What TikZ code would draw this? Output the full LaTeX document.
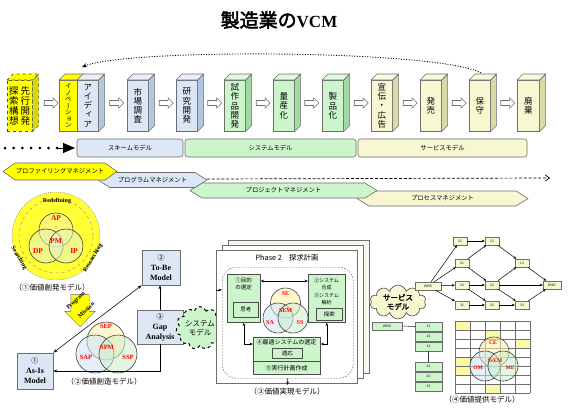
\documentclass[tikz,border=0pt]{standalone}
\usepackage{fontspec}
\newfontfamily\jp{Noto Sans CJK JP}[AutoFakeBold=2.5]
\newfontfamily\jpv{Noto Sans CJK JP}[RawFeature=+vert]
\newfontfamily\ser{Liberation Serif}
\usetikzlibrary{shapes.symbols,shapes.arrows,arrows.meta,calc}
\definecolor{bluef}{HTML}{DCE6F4}
\definecolor{blues}{HTML}{B3C7E2}
\definecolor{greenf}{HTML}{CCF5CC}
\definecolor{greens}{HTML}{A4D9A4}
\definecolor{creamf}{HTML}{F7F7D2}
\definecolor{creams}{HTML}{DADAA6}
\definecolor{yel}{HTML}{FFFF00}
\definecolor{yels}{HTML}{D9D900}
\definecolor{edgegray}{HTML}{6E6E6E}
\definecolor{vyel}{HTML}{FFF2A8}
\definecolor{vblue}{HTML}{CFE2F6}
\definecolor{vgreen}{HTML}{CDEFCD}
\definecolor{vlg}{HTML}{E2F4C4}
\definecolor{redl}{HTML}{FF0000}
\definecolor{pageback}{HTML}{F7F7EE}

\newcommand\mycube[8][]{%
  \node[cubefront,#1,minimum width=#4pt,fill=#5] (#2) at (#3,80) {#8};
  \draw[cubeline,#1,fill=#6] (#2.north east) -- ++(6,-6) -- ($(#2.south east)+(6,-6)$) -- (#2.south east) -- cycle;
  \draw[cubeline,#1,fill=#7] (#2.north west) -- ++(6,-6) -- ($(#2.north east)+(6,-6)$) -- (#2.north east) -- cycle;
}
\newcommand\hexa[7]{%
  \draw[hexline,fill=#6] (#2,#4) -- (#2+12,#4-#5) -- (#3-12,#4-#5) -- (#3,#4) -- (#3-12,#4+#5) -- (#2+12,#4+#5) -- cycle;
  \node[mgtxt] (#1) at ({(#2+#3)/2},#4) {#7};
}

\tikzset{
  cubefront/.style={draw=edgegray,line width=0.6pt,minimum height=51pt,inner sep=0pt,anchor=north west,align=center,font=\jpv\fontsize{8.5}{9.2}\selectfont},
  cubeline/.style={draw=edgegray,line width=0.6pt,line join=round},
  vtxt/.style={inner sep=0pt,align=center,font=\jpv\fontsize{9.5}{10}\selectfont},
  harrow/.style={single arrow,draw=edgegray,fill=white,line width=0.6pt,minimum height=14pt,inner sep=2.2pt,single arrow head extend=2.6pt},
  modelbar/.style={draw=edgegray,line width=0.6pt,rounded corners=2.5pt,minimum height=18pt,inner sep=0pt,font=\jp\fontsize{6.3}{7}\selectfont},
  hexline/.style={draw=edgegray,line width=0.6pt,line join=round},
  mgtxt/.style={inner sep=0pt,font=\jp\fontsize{6.3}{7}\selectfont},
  conn/.style={draw=black,line width=0.55pt},
  vc/.style={circle,draw=black!75,line width=0.6pt,fill opacity=0.55,inner sep=0pt},
  redlbl/.style={inner sep=0pt,text=redl,font=\ser\bfseries\fontsize{7.5}{8}\selectfont},
  rottxt/.style={inner sep=0pt,font=\ser\bfseries\fontsize{6}{7}\selectfont},
  captxt/.style={inner sep=0pt,font=\jp\fontsize{7.5}{8}\selectfont},
  mbox/.style={draw=edgegray,fill=bluef,line width=0.7pt,inner sep=0pt,align=center,font=\ser\bfseries\fontsize{8}{10}\selectfont},
  page/.style={draw=edgegray,fill=white,line width=0.6pt,minimum width=141pt,minimum height=133pt,anchor=north west,inner sep=0pt},
  gbox/.style={draw=black!70,fill=greenf,line width=0.6pt,anchor=north west,inner sep=0pt,font=\jp\fontsize{5.5}{6}\selectfont},
  smalljp/.style={inner sep=0pt,align=center,font=\jp\fontsize{5.5}{7.3}\selectfont},
  nb/.style={draw=edgegray,fill=creamf,line width=0.4pt,minimum width=14pt,minimum height=8pt,inner sep=0pt,font=\sffamily\fontsize{3.5}{4}\selectfont},
  tb/.style={draw=edgegray,fill=greenf,line width=0.4pt,minimum width=27pt,minimum height=8.5pt,inner sep=0pt,font=\sffamily\fontsize{3.5}{4}\selectfont},
  narr/.style={draw=black,line width=0.5pt,-{Stealth[length=3pt,width=2.6pt]}},
}

\begin{document}
\begin{tikzpicture}[x=1pt,y=-1pt]
\useasboundingbox (0,0) rectangle (570,412);
\fill[white] (0,0) rectangle (570,412);

% title
\node[inner sep=0pt] (title) at (279,20) {{\jp\bfseries\fontsize{19}{20}\selectfont 製造業の}{\ser\bfseries\fontsize{17}{20}\selectfont VCM}};

% loop arrow
\coordinate (loopS) at (481,73);
\coordinate (loopE) at (82,67);
\draw[line width=0.9pt,dash pattern=on 1pt off 1.6pt,-{Stealth[length=5pt,width=4pt]}] (loopS) .. controls (440,50) and (130,48) .. (loopE);

% cubes
\mycube[dashed,draw=black!70]{senko}{7}{25}{yel}{yels}{yel}{}
\node[vtxt] (senkoA) at ($(senko.center)+(5.5,0)$) {先\\行\\開\\発};
\node[vtxt] (senkoB) at ($(senko.center)+(-6,0)$) {探\\索\\構\\想};
\mycube[font=\jpv\fontsize{6.4}{6.5}\selectfont]{inov}{59}{18}{yel}{yels}{yel}{イ\\ノ\\ベ\\ー\\シ\\ョ\\ン}
\mycube{idea}{77}{21}{bluef}{blues}{bluef!60!white}{ア\\イ\\デ\\ィ\\ア}
\mycube{shijo}{127}{21}{bluef}{blues}{bluef!60!white}{市\\場\\調\\査}
\mycube{kenkyu}{176}{21}{bluef}{blues}{bluef!60!white}{研\\究\\開\\発}
\mycube{shisaku}{224}{21}{greenf}{greens}{greenf!60!white}{試\\作\\品\\開\\発}
\mycube{ryosan}{273}{21}{greenf}{greens}{greenf!60!white}{量\\産\\化}
\mycube{seihin}{322}{21}{greenf}{greens}{greenf!60!white}{製\\品\\化}
\mycube{senden}{371}{21}{creamf}{creams}{creamf!60!white}{宣\\伝\\・\\広\\告}
\mycube{hatsubai}{420}{21}{creamf}{creams}{creamf!60!white}{発\\売}
\mycube{hoshu}{469}{21}{creamf}{creams}{creamf!60!white}{保\\守}
\mycube{haiki}{517}{22}{creamf}{creams}{creamf!60!white}{廃\\棄}

\foreach \i/\x in {0/50,1/115.5,2/165,3/213.5,4/262,5/310.5,6/360,7/409,8/458,9/506.5}
  \node[harrow] (h\i) at (\x,103) {};

% model bars
\node[modelbar,fill=bluef,minimum width=106pt] (scm) at (130,148) {スキームモデル};
\node[modelbar,fill=greenf,minimum width=171pt] (sym) at (270.5,148) {システムモデル};
\node[modelbar,fill=creamf,minimum width=169pt] (svb) at (442.5,148) {サービスモデル};

% dotted arrow left
\coordinate (d1) at (5,148);
\coordinate (d2) at (58,148);
\coordinate (d3) at (75,148);
\draw[line width=3pt,line cap=round,dash pattern=on 0pt off 8.7pt] (d1) -- (d2);
\draw[line width=1pt,-{Triangle[length=12pt,width=10pt]}] (d2) -- (d3);

% management
\hexa{prc}{357}{528}{198.5}{7.5}{creamf}{プロセスマネジメント}
\hexa{prj}{190}{377}{190.5}{7.5}{greenf}{プロジェクトマネジメント}
\hexa{prg}{98}{207}{180}{7.5}{bluef}{プログラムマネジメント}
\hexa{prf}{3}{117}{171.5}{8.5}{yel}{プロファイリングマネジメント}
\coordinate (prgtip) at (207,179);
\coordinate (prgend) at (550,178);
\draw[line width=0.7pt,dash pattern=on 3pt off 1.8pt,-{Straight Barb[length=4pt,width=6pt]}] (prgtip) -- (prgend);

% value creation model 1
\node[circle,minimum size=88pt,inner sep=0pt,fill=yel!80!white,draw=black!50,dash pattern=on 1pt off 1pt] (vc1) at (56,236) {};
\draw[black!45,dashed] (vc1.center) circle[radius=37pt];
\node[vc,fill=vyel,minimum size=34pt] (apc) at (56,230) {};
\node[vc,fill=vlg,minimum size=34pt] (dpc) at (46,246) {};
\node[vc,fill=vlg,minimum size=34pt] (ipc) at (66,246) {};
\node[redlbl] (lap) at (56,218) {AP};
\node[redlbl] (lpm) at (56,241) {PM};
\node[redlbl] (ldp) at (38,251) {DP};
\node[redlbl] (lip) at (74,251) {IP};
\node[rottxt] (redef) at (57,201) {Redefining};
\node[rottxt,rotate=-58] (srch) at (19,258) {Searching};
\node[rottxt,rotate=58] (rsch) at (93,258) {Researching};
\node[captxt] (cap1) at (52,288) {（①価値創発モデル）};

% program mission arrow
\node[single arrow,draw=black!60,fill=yel,rotate=-90,minimum height=32pt,inner sep=9pt,single arrow head extend=6pt] (pmarrow) at (80,306) {};
\node[rottxt,rotate=43] (pmt1) at (76,301) {Program};
\node[rottxt,rotate=43] (pmt2) at (86,310) {Mission};

% value creation model 2
\node[vc,fill=vyel,minimum size=38pt] (sepc) at (106,341) {};
\node[vc,fill=vblue,minimum size=38pt] (sapc) at (95,354) {};
\node[vc,fill=vgreen,minimum size=38pt] (sspc) at (118,354) {};
\node[redlbl,font=\ser\bfseries\fontsize{6.5}{7}\selectfont] (lsep) at (106,326) {SEP};
\node[redlbl,font=\ser\bfseries\fontsize{6.5}{7}\selectfont] (lspm) at (107,347) {SPM};
\node[redlbl,font=\ser\bfseries\fontsize{6.5}{7}\selectfont] (lsap) at (86,357) {SAP};
\node[redlbl,font=\ser\bfseries\fontsize{6.5}{7}\selectfont] (lssp) at (128,357) {SSP};
\node[captxt] (cap2) at (104,382) {（②価値創造モデル）};

% model boxes
\node[mbox,minimum width=36pt,minimum height=36pt] (asis) at (35,371) {{\jp\mdseries\fontsize{7}{8}\selectfont ①}\\As-Is\\Model};
\node[mbox,minimum width=38pt,minimum height=35pt] (tobe) at (161,267.5) {{\jp\mdseries\fontsize{7}{8}\selectfont ②}\\To-Be\\Model};
\node[mbox,minimum width=46pt,minimum height=34pt] (gap) at (160,327) {{\jp\mdseries\fontsize{7}{8}\selectfont ③}\\Gap\\Analysis};
\draw[conn,{Stealth[length=4pt]}-{Stealth[length=4pt]}] (asis.north east) -- (tobe.south west);
\draw[conn,-{Stealth[length=4pt]}] (gap.north) -- (gap.north |- tobe.south);
\draw[conn,-{Stealth[length=4pt]}] (gap.south) |- (asis.east);

% system model cloud
\node[cloud,cloud puffs=11,aspect=1.2,draw=black,dashed,line width=1pt,fill=greenf,inner sep=0pt,minimum width=46pt,minimum height=38pt,align=center,font=\jp\fontsize{7.5}{9}\selectfont] (sysc) at (200,328) {システム\\モデル};

% phase pages
\node[page,fill=pageback] (pg3) at (228,240) {};
\node[page] (pg2) at (222,245) {};
\node[page] (pg1) at (216,250) {};
\node[inner sep=0pt,font=\jp\fontsize{7.3}{8}\selectfont] (phase) at (287,258) {Phase 2　探求計画};
\node[draw=black!70,dash pattern=on 1.5pt off 1.5pt,rounded corners=14pt,minimum width=131pt,minimum height=111pt,anchor=north west,inner sep=0pt] (dr) at (222,267) {};

\node[gbox,minimum width=33pt,minimum height=48pt] (lbox) at (227,274) {};
\node[smalljp] (ltxt) at (243.5,284) {①目的\\の選定};
\node[gbox,minimum width=25pt,minimum height=15pt] (lin) at (233,302) {思考};
\node[gbox,minimum width=37pt,minimum height=48pt] (rbox) at (308,274) {};
\node[smalljp,font=\jp\fontsize{5}{7.6}\selectfont] (rtxt) at (326.5,291.5) {②システム\\合成\\③システム\\解析};
\node[gbox,minimum width=26pt,minimum height=12pt] (rin) at (316,308) {探索};

\node[vc,fill=vyel,minimum size=30pt] (sec) at (285.5,303) {};
\node[vc,fill=vblue,minimum size=30pt] (sac) at (278,318) {};
\node[vc,fill=vgreen,minimum size=30pt] (ssc) at (293,318) {};
\node[redlbl,font=\ser\bfseries\fontsize{6}{7}\selectfont] (lse) at (285.5,294) {SE};
\node[redlbl,font=\ser\bfseries\fontsize{6}{7}\selectfont] (lsem) at (285.5,311) {SEM};
\node[redlbl,font=\ser\bfseries\fontsize{6}{7}\selectfont] (lsa) at (270,323) {SA};
\node[redlbl,font=\ser\bfseries\fontsize{6}{7}\selectfont] (lss) at (300,323) {SS};

\node[gbox,minimum width=67pt,minimum height=37pt] (bbox) at (253,337) {};
\node[smalljp,font=\jp\fontsize{6}{7}\selectfont] (btitle) at (286.5,342.5) {④最適システムの選定};
\node[gbox,minimum width=30pt,minimum height=10pt] (bin) at (272,348) {適応};
\draw[draw=black!70,line width=0.6pt] ($(bbox.north west)+(0,24)$) -- ($(bbox.north east)+(0,24)$);
\node[smalljp,font=\jp\fontsize{6}{7}\selectfont] (bsub) at (286.5,368) {⑤実行計画作成};

\draw[conn,{Stealth[length=3.5pt]}-{Stealth[length=3.5pt]}] ($(lbox.north east)+(0,7)$) -- ($(rbox.north west)+(0,7)$);
\draw[conn,{Stealth[length=3.5pt]}-{Stealth[length=3.5pt]}] (lbox.south) |- ($(bbox.north west)+(0,7)$);
\draw[conn,{Stealth[length=3.5pt]}-{Stealth[length=3.5pt]}] (rbox.south) |- ($(bbox.north east)+(0,7)$);
\coordinate (pin) at (216,290);
\draw[conn,-{Stealth[length=3.5pt]}] (pin) -- (pin -| dr.west);
\coordinate (pout) at (287.5,385);
\draw[conn,-{Stealth[length=3.5pt]}] (dr.south) -- (pout);
\node[captxt] (cap3) at (287,392) {（③価値実現モデル）};

% service model cloud
\node[cloud,cloud puffs=10,aspect=1.7,draw=black!70,line width=0.6pt,fill=creamf,inner sep=0pt,minimum width=56pt,minimum height=33pt,align=center,font=\jp\bfseries\fontsize{7.5}{9}\selectfont] (svc) at (398,302) {サービス\\モデル};

% network
\node[nb,minimum width=26pt] (wbs) at (428,286) {WBS};
\node[nb] (n11) at (460,241) {11};
\node[nb] (n12) at (492,241) {12};
\node[nb] (n21) at (462,263) {21};
\node[nb] (n22) at (462,285) {22};
\node[nb] (n31) at (462,305) {31};
\node[nb] (n23) at (492,285) {23};
\node[nb] (n32) at (492,305) {32};
\node[nb] (n13) at (522,263) {13};
\node[nb] (n33) at (522,305) {33};
\node[nb,minimum width=18pt] (nend) at (552,285) {END};
\foreach \a/\b in {wbs/n11,wbs/n21,wbs/n22,wbs/n31,n11/n12,n21/n12,n21/n23,n22/n23,n22/n32,n31/n32,n32/n33,n12/n13,n23/n13,n23/n33,n23/nend,n13/nend,n33/nend}
  \draw[narr] (\a) -- (\b);

% tree
\node[tb,minimum width=30pt] (wbs2) at (387,326) {WBS};
\node[tb] (t11) at (428.5,326.5) {11};
\node[tb] (t12) at (428.5,336.5) {12};
\node[tb] (t13) at (428.5,346.5) {13};
\node[tb] (t21) at (428.5,366.5) {21};
\node[tb] (t22) at (428.5,376.5) {22};
\node[tb] (t23) at (428.5,386.5) {23};
\draw[conn,draw=black!80] (wbs2.east) -- (t11.west);
\draw[conn,draw=black!80] (t13.south) -- (t21.north);

% grid
\begin{scope}[shift={(455,321)}]
  \foreach \c/\r in {0/0,2/1,4/2,0/4,0/5,2/7}
    \fill[creamf!80!yellow] (15*\c,9*\r) rectangle ++(15,9);
  \draw[edgegray,line width=0.5pt] (0,0) grid[xstep=15pt,ystep=9pt] (75,72);
\end{scope}
\node[vc,fill=vyel,minimum size=30pt] (cec) at (494,352) {};
\node[vc,fill=vblue,minimum size=30pt] (omc) at (485,366) {};
\node[vc,fill=vgreen,minimum size=30pt] (mec) at (503,366) {};
\node[redlbl,font=\ser\bfseries\fontsize{5.5}{6}\selectfont] (lce) at (493,343) {CE};
\node[redlbl,font=\ser\bfseries\fontsize{5.5}{6}\selectfont] (lsvem) at (495,361) {SvEM};
\node[redlbl,font=\ser\bfseries\fontsize{5.5}{6}\selectfont] (lom) at (478,368) {OM};
\node[redlbl,font=\ser\bfseries\fontsize{5.5}{6}\selectfont] (lme) at (510,368) {ME};
\node[captxt] (cap4) at (482,400) {（④価値提供モデル）};
\end{tikzpicture}
\end{document}
